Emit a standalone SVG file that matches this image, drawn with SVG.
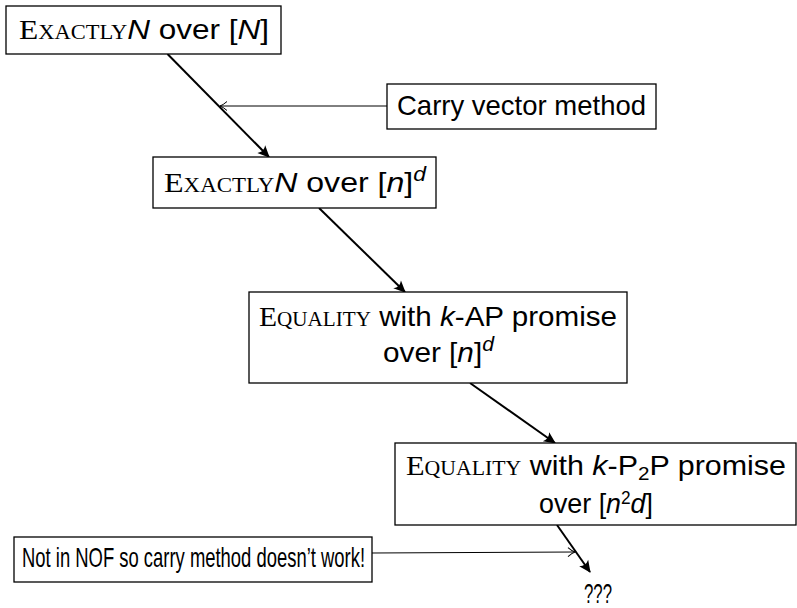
<svg xmlns="http://www.w3.org/2000/svg" width="797" height="608" viewBox="0 0 797 608">
<style>
.box{fill:#fff;stroke:#000;stroke-width:1.3}
.t{font-family:"Liberation Sans",Arial,sans-serif;font-size:28px;fill:#000}
.sc{font-family:"Liberation Serif","Times New Roman",serif;font-variant:small-caps}
.i{font-style:italic}
.main{stroke:#000;stroke-width:2;fill:none;marker-end:url(#head)}
.ann{stroke:#000;stroke-width:1;fill:none;marker-end:url(#thin)}
</style>
<defs>
<marker id="head" markerUnits="userSpaceOnUse" orient="auto" refX="0" refY="0" viewBox="-14 -7 16 14" markerWidth="16" markerHeight="14" overflow="visible">
<path d="M1,0 L-11,-5.5 Q-7,0 -11,5.5 Z" fill="#000"/>
</marker>
<marker id="thin" markerUnits="userSpaceOnUse" orient="auto" refX="0" refY="0" viewBox="-10 -6 12 12" markerWidth="12" markerHeight="12" overflow="visible">
<path d="M-7,-4.5 Q-3,-1 0,0 Q-3,1 -7,4.5" fill="none" stroke="#000" stroke-width="1"/>
</marker>
</defs>
<g id="connectors">
<path class="main" d="M167.5,54 L269,157"/>
<path class="main" d="M319,208 L405,292"/>
<path class="main" d="M470,383 L555,443"/>
<path class="main" d="M557,525 L590,572"/>
<path class="ann" d="M387,106 L220,106"/>
<path class="ann" d="M372,553 L575,552"/>
</g>
<g id="n1">
<rect class="box" x="6" y="6" width="275" height="48"/>
<text class="t" x="19" y="39" textLength="250" lengthAdjust="spacingAndGlyphs"><tspan class="sc">Exactly</tspan><tspan class="i">N</tspan> over [<tspan class="i">N</tspan>]</text>
</g>
<g id="carry">
<rect class="box" x="387" y="84" width="269" height="45"/>
<text class="t" x="397" y="115" textLength="249" lengthAdjust="spacingAndGlyphs">Carry vector method</text>
</g>
<g id="n2">
<rect class="box" x="153" y="157" width="283" height="51"/>
<text class="t" x="164" y="192" textLength="262" lengthAdjust="spacingAndGlyphs"><tspan class="sc">Exactly</tspan><tspan class="i">N</tspan> over [<tspan class="i">n</tspan>]<tspan class="i" dy="-11" font-size="20">d</tspan></text>
</g>
<g id="n3">
<rect class="box" x="249" y="292" width="378" height="91"/>
<text class="t" x="259" y="326" textLength="358" lengthAdjust="spacingAndGlyphs"><tspan class="sc">Equality</tspan> with <tspan class="i">k</tspan>-AP promise</text>
<text class="t" x="383" y="362" textLength="111" lengthAdjust="spacingAndGlyphs">over [<tspan class="i">n</tspan>]<tspan class="i" dy="-11" font-size="20">d</tspan></text>
</g>
<g id="n4">
<rect class="box" x="395" y="443" width="401" height="82"/>
<text class="t" x="406" y="475" textLength="380" lengthAdjust="spacingAndGlyphs"><tspan class="sc">Equality</tspan> with <tspan class="i">k</tspan>-P<tspan dy="5" font-size="19">2</tspan><tspan dy="-5">P promise</tspan></text>
<text class="t" x="539" y="513" textLength="114" lengthAdjust="spacingAndGlyphs">over [<tspan class="i">n</tspan><tspan dy="-9" font-size="18">2</tspan><tspan class="i" dy="9">d</tspan>]</text>
</g>
<g id="nof">
<rect class="box" x="14" y="537" width="358" height="45"/>
<text class="t" x="22" y="567" textLength="343" lengthAdjust="spacingAndGlyphs">Not in NOF so carry method doesn’t work!</text>
</g>
<g id="q">
<text class="t" x="598" y="603" text-anchor="middle" textLength="28" lengthAdjust="spacingAndGlyphs">???</text>
</g>
</svg>
